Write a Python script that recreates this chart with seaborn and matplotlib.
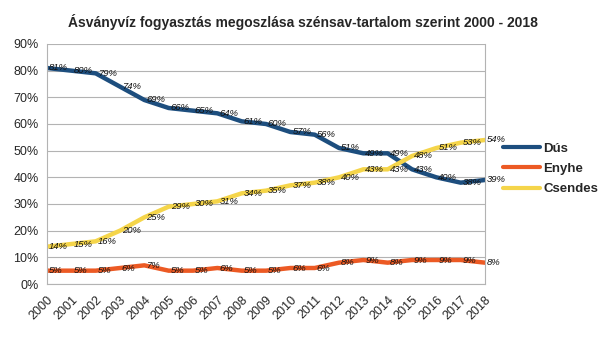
import matplotlib
matplotlib.use("Agg")
import matplotlib.pyplot as plt
import seaborn as sns
import pandas as pd

years = list(range(2000, 2019))
dus = [81, 80, 79, 74, 69, 66, 65, 64, 61, 60, 57, 56, 51, 49, 49, 43, 40, 38, 39]
enyhe = [5, 5, 5, 6, 7, 5, 5, 6, 5, 5, 6, 6, 8, 9, 8, 9, 9, 9, 8]
csendes = [14, 15, 16, 20, 25, 29, 30, 31, 34, 35, 37, 38, 40, 43, 43, 48, 51, 53, 54]
series_names = ["Dús", "Enyhe", "Csendes"]
colors = ["#1d4e7e", "#ec5a24", "#f5d54a"]
title = "Ásványvíz fogyasztás megoszlása szénsav-tartalom szerint 2000 - 2018"

df = pd.DataFrame({"Év": years, "Dús": dus, "Enyhe": enyhe, "Csendes": csendes})
long = df.melt(id_vars="Év", var_name="Típus", value_name="Arány")

sns.set_style("white")
plt.rcParams["font.family"] = ["Liberation Sans", "DejaVu Sans"]

fig = plt.figure(figsize=(6.05, 3.4), dpi=100)
ax = fig.add_axes([0.0777, 0.1647, 0.7240, 0.7059])

sns.lineplot(data=long, x="Év", y="Arány", hue="Típus", hue_order=series_names,
             palette=colors, linewidth=3.2, ax=ax, legend=True,
             solid_joinstyle="round", solid_capstyle="round")

for name in series_names:
    for x, v in zip(years, df[name]):
        ax.text(x + 0.08, v, f"{v}%", fontsize=6.8, style="italic",
                ha="left", va="center", color="#111111", clip_on=False, zorder=5)

ax.set_xlim(2000, 2018)
ax.set_ylim(0, 90)
ax.set_yticks(range(0, 91, 10))
ax.set_yticklabels([f"{t}%" for t in range(0, 91, 10)], fontsize=9)
ax.set_xticks(years)
ax.set_xticklabels([str(y) for y in years], rotation=45, ha="right",
                   rotation_mode="anchor", fontsize=9)
ax.set_xlabel("")
ax.set_ylabel("")
ax.grid(axis="y", color="#b3b3b3", linewidth=0.8)
ax.set_axisbelow(True)
ax.tick_params(axis="both", length=4, width=0.8, color="#b3b3b3", direction="out", pad=2)
ax.tick_params(axis="x", pad=3)
for side in ["left", "bottom", "right"]:
    ax.spines[side].set_visible(True)
    ax.spines[side].set_color("#b3b3b3")
    ax.spines[side].set_linewidth(0.8)
ax.spines["top"].set_visible(False)

leg = ax.legend(loc="upper left", bbox_to_anchor=(500 / 605, 1 - 140 / 340),
                bbox_transform=fig.transFigure, frameon=False,
                prop={"weight": "bold", "size": 9.5}, handlelength=2.8,
                handletextpad=0.3, labelspacing=0.6, borderaxespad=0, borderpad=0.2)
for line in leg.get_lines():
    line.set_linewidth(3)

fig.text(0.5, 0.935, title, ha="center", va="center", fontsize=10, fontweight="bold")

fig.savefig("out.png", dpi=100)
